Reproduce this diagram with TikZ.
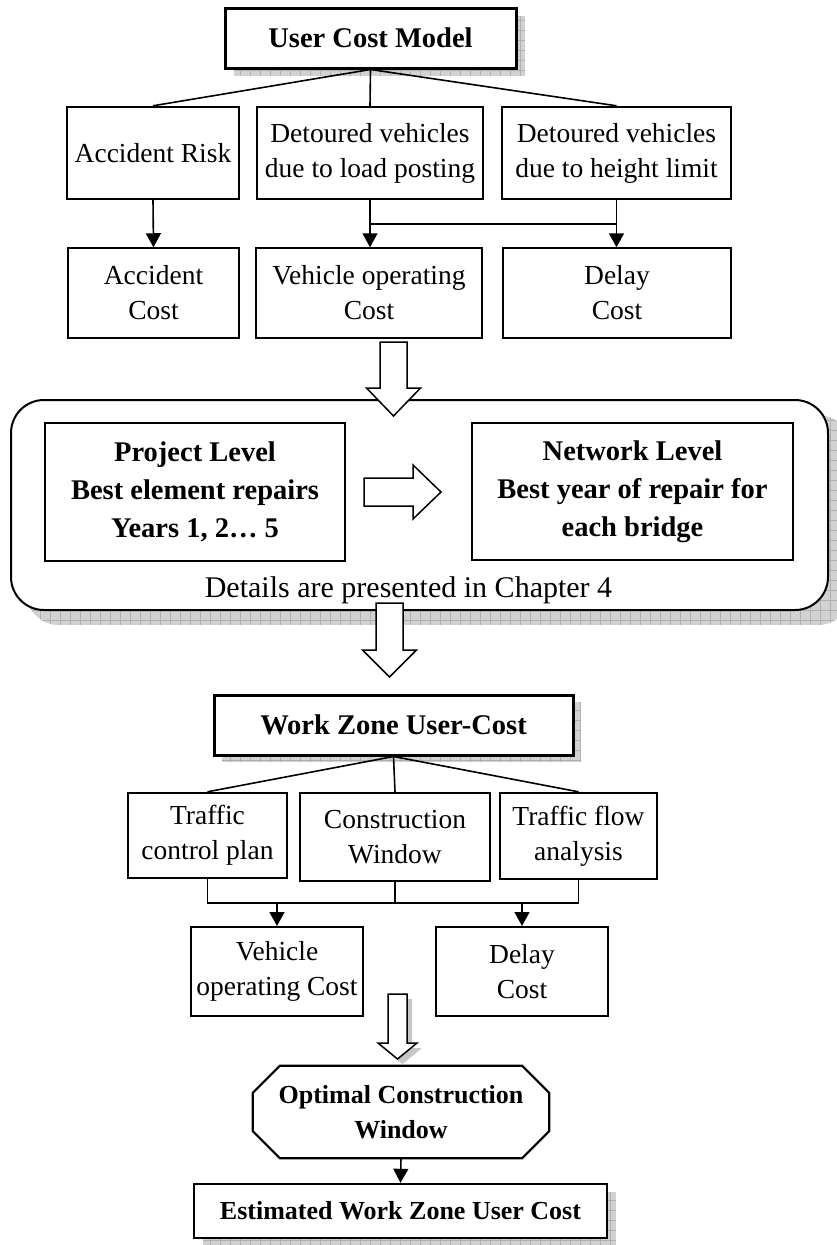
\documentclass[tikz,border=0pt]{standalone}
\usepackage{fontspec}
\setmainfont{Liberation Serif}
\usetikzlibrary{arrows.meta}
\newcommand\txtnorm{\fontsize{27.5pt}{35pt}\selectfont}
\newcommand\txthead{\fontsize{28.5pt}{38pt}\selectfont\bfseries}
\newcommand\txtsb{\fontsize{26pt}{35pt}\selectfont\bfseries}
\newcommand\txtdet{\fontsize{30pt}{36pt}\selectfont}
\newcommand\myshadow[5]{%
  \begin{scope}
    \clip[rounded corners=#5] (#1,#2) rectangle (#3,#4);
    \fill[gray!35] (#1,#2) rectangle (#3,#4);
    \draw[gray!62,line width=0.7pt,step=10pt] (#1,#2) grid (#3,#4);
  \end{scope}}
\begin{document}
\begin{tikzpicture}[x=1pt,y=1pt,line join=miter,
  bx/.style={draw,fill=white,inner sep=0pt,align=center,font=\txtnorm},
  hd/.style={bx,font=\txthead},
  ln/.style={line width=1.6pt},
  arr/.style={line width=1.6pt,-{Triangle[length=14pt,width=15pt]}},
  barrow/.style={draw,fill=white,line width=1.5pt}]
\useasboundingbox (0,0) rectangle (836,-1245);
\fill[white] (0,0) rectangle (836,-1245);

% shadows
\myshadow{234}{-16}{525}{-76}{0pt}
\myshadow{26}{-415}{851}{-625}{33pt}
\myshadow{222}{-702}{581}{-762}{0pt}
\myshadow{203}{-1192}{616}{-1250}{0pt}

% top section
\node[hd,line width=3pt,minimum width=291pt,minimum height=60pt] (title) at (370.5,-38) {User Cost Model};
\node[bx,line width=2.4pt,minimum width=172pt,minimum height=92pt] (ar) at (153,-153) {Accident Risk};
\node[bx,line width=2.4pt,minimum width=226pt,minimum height=92pt] (dl) at (370,-153) {Detoured vehicles\\due to load posting};
\node[bx,line width=2.4pt,minimum width=229pt,minimum height=92pt] (dh) at (616.5,-153) {Detoured vehicles\\due to height limit};
\node[bx,line width=1.5pt,minimum width=171pt,minimum height=90pt] (ac) at (153.5,-293) {Accident\\Cost};
\node[bx,line width=1.5pt,minimum width=226pt,minimum height=90pt] (vo) at (369,-293) {Vehicle operating\\Cost};
\node[bx,line width=1.5pt,minimum width=228pt,minimum height=90pt] (dc) at (617,-293) {Delay\\Cost};

\draw[ln] (title.south) -- (ar.north);
\draw[ln] (title.south) -- (dl.north);
\draw[ln] (title.south) -- (dh.north);
\draw[arr] (ar.south) -- (ac.north);
\coordinate (jl) at ([yshift=-24pt]dl.south);
\coordinate (jr) at (dh.south |- jl);
\draw[ln] (dl.south) -- (jl) -- (jr) -- (dh.south);
\draw[arr] (jl) -- (jl |- vo.north);
\draw[arr] (jr) -- (jr |- dc.north);

% middle group
\node[draw,fill=white,rounded corners=33pt,line width=2pt,inner sep=0pt,minimum width=817pt,minimum height=210pt] (grp) at (419.5,-505) {};
\node[hd,line width=1.5pt,minimum width=300pt,minimum height=138pt] (proj) at (195,-492) {Project Level\\Best element repairs\\Years 1, 2… 5};
\node[hd,line width=1.5pt,minimum width=321pt,minimum height=137pt] (net) at (632.5,-491.5) {Network Level\\Best year of repair for\\each bridge};
\node[font=\txtdet,anchor=base,inner sep=0pt] (det) at (408.5,-597) {Details are presented in Chapter 4};

\draw[barrow] (364,-478) -- (413,-478) -- (413,-465) -- (441,-492) -- (413,-519) -- (413,-506) -- (364,-506) -- cycle;
\draw[barrow] (380,-342) -- (407,-342) -- (407,-388) -- (420.5,-388) -- (393.5,-416) -- (366.5,-388) -- (380,-388) -- cycle;
\draw[barrow] (376,-603) -- (403,-603) -- (403,-650) -- (416.5,-650) -- (389.5,-677) -- (362.5,-650) -- (376,-650) -- cycle;

% bottom section
\node[hd,line width=3pt,minimum width=359pt,minimum height=60pt] (wz) at (393.5,-725) {Work Zone User-Cost};
\node[bx,line width=2.4pt,minimum width=159pt,minimum height=85pt] (tc) at (207.5,-835.5) {Traffic\\control plan};
\node[bx,line width=2.4pt,minimum width=190pt,minimum height=88pt] (cw) at (395,-837) {Construction\\Window};
\node[bx,line width=2.4pt,minimum width=157pt,minimum height=86pt] (tf) at (578.5,-836) {Traffic flow\\analysis};
\node[bx,line width=2pt,minimum width=172pt,minimum height=89pt] (vo2) at (277,-971.5) {Vehicle\\operating Cost};
\node[bx,line width=2pt,minimum width=172pt,minimum height=89pt] (dc2) at (522,-971.5) {Delay\\Cost};

\draw[ln] (wz.south) -- (tc.north);
\draw[ln] (wz.south) -- (cw.north);
\draw[ln] (wz.south) -- (tf.north);
\coordinate (hy) at (0,-903);
\draw[ln] (tc.south) -- (tc.south |- hy) -- (tf.south |- hy) -- (tf.south);
\draw[ln] (cw.south) -- (cw.south |- hy);
\draw[arr] (vo2.north |- hy) -- (vo2.north);
\draw[arr] (dc2.north |- hy) -- (dc2.north);

% small block arrow with shadow
\fill[gray!45] (393,-999) -- (412,-999) -- (412,-1048) -- (422,-1048) -- (402.5,-1064) -- (383,-1048) -- (393,-1048) -- cycle;
\draw[barrow] (388,-994) -- (407,-994) -- (407,-1043) -- (417,-1043) -- (397.5,-1059) -- (378,-1043) -- (388,-1043) -- cycle;

% octagon
\node[inner sep=0pt,align=center,font=\txtsb,minimum width=296pt,minimum height=92pt] (oct) at (401,-1112) {Optimal Construction\\Window};
\draw[line width=2.2pt] ([xshift=27pt]oct.north west) -- ([xshift=-27pt]oct.north east) -- ([yshift=-27pt]oct.north east) -- ([yshift=27pt]oct.south east) -- ([xshift=-27pt]oct.south east) -- ([xshift=27pt]oct.south west) -- ([yshift=27pt]oct.south west) -- ([yshift=-27pt]oct.north west) -- cycle;

\node[bx,font=\txtsb,line width=2.4pt,minimum width=413pt,minimum height=54pt] (est) at (400.5,-1211) {Estimated Work Zone User Cost};
\draw[arr] (oct.south) -- (est.north);
\end{tikzpicture}
\end{document}
